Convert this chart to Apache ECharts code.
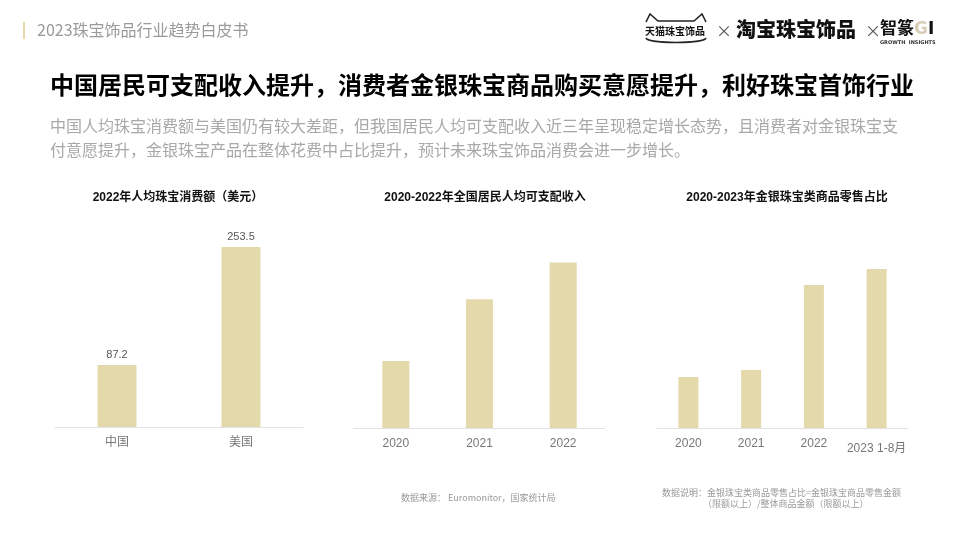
<!DOCTYPE html>
<html>
<head>
<meta charset="utf-8">
<script src="https://cdn.jsdelivr.net/npm/echarts@6/dist/echarts.min.js"></script>
<style>
  html, body { margin: 0; padding: 0; background: #fff; }
  #main { width: 960px; height: 540px; }
</style>
</head>
<body>
<div id="main"></div>
<script>
// 2022年人均珠宝消费额（美元）
const spendCats = ['中国', '美国'];
const spendVals = [87.2, 253.5];
// 2020-2022年全国居民人均可支配收入（元）
const incomeCats = ['2020', '2021', '2022'];
const incomeVals = [32189, 35128, 36883];
// 2020-2023年金银珠宝类商品零售占比（相对高度估计）
const shareCats = ['2020', '2021', '2022', '2023 1-8月'];
const shareVals = [5.1, 5.8, 14.3, 15.9];

const BAR = '#e4d9aa';
const FONT = '"Noto Sans CJK SC", "Noto Sans", sans-serif';
const CFONT = '"Liberation Sans", "Noto Sans CJK SC", sans-serif';

const chart = echarts.init(document.getElementById('main'));

const catAxis = (idx, data, extra) => Object.assign({
  type: 'category',
  gridIndex: idx,
  data: data,
  axisLine: { lineStyle: { color: '#e3e3e3', width: 1 } },
  axisTick: { show: false },
  axisLabel: { color: '#777', fontSize: 12, margin: 10, interval: 0, fontFamily: CFONT }
}, extra || {});

const valAxis = (idx, min, max) => ({
  type: 'value', gridIndex: idx, min: min, max: max,
  show: false, splitLine: { show: false }
});

const titleStyle = { fontSize: 12, fontWeight: 'bold', color: '#111', fontFamily: CFONT };

chart.setOption({
  animation: false,
  textStyle: { fontFamily: CFONT },
  title: [
    { text: '2022年人均珠宝消费额（美元）', left: 173, top: 187, textAlign: 'center', textStyle: titleStyle },
    { text: '2020-2022年全国居民人均可支配收入', left: 480, top: 187, textAlign: 'center', textStyle: titleStyle },
    { text: '2020-2023年金银珠宝类商品零售占比', left: 782, top: 187, textAlign: 'center', textStyle: titleStyle }
  ],
  grid: [
    { left: 55, width: 248, top: 214, height: 213 },
    { left: 354, width: 251, top: 218, height: 210 },
    { left: 657, width: 251, top: 218, height: 210 }
  ],
  xAxis: [
    catAxis(0, spendCats),
    catAxis(1, incomeCats),
    catAxis(2, shareCats, {
      axisLabel: {
        color: '#777', fontSize: 12, margin: 10, interval: 0, fontFamily: CFONT,
        formatter: v => v.indexOf('月') > -1 ? '{l|' + v + '}' : v,
        rich: { l: { color: '#777', fontSize: 12, padding: [5, 0, 0, 0], fontFamily: CFONT } }
      }
    })
  ],
  yAxis: [
    valAxis(0, 0, 300),
    valAxis(1, 29000, 39000),
    valAxis(2, 0, 21)
  ],
  series: [
    { type: 'bar', xAxisIndex: 0, yAxisIndex: 0, data: spendVals, barWidth: 39,
      itemStyle: { color: BAR },
      label: { show: true, position: 'top', distance: 5, color: '#555', fontSize: 11, fontFamily: CFONT } },
    { type: 'bar', xAxisIndex: 1, yAxisIndex: 1, data: incomeVals, barWidth: 27,
      itemStyle: { color: BAR } },
    { type: 'bar', xAxisIndex: 2, yAxisIndex: 2, data: shareVals, barWidth: 20,
      itemStyle: { color: BAR } }
  ],
  graphic: [
    // 页眉
    { type: 'rect', shape: { x: 23, y: 22, width: 2, height: 17 }, style: { fill: BAR } },
    { type: 'text', left: 37, top: 22, style: { text: '2023珠宝饰品行业趋势白皮书', fill: '#9a9a9a', fontSize: 16, fontFamily: FONT } },
    // 天猫 logo
    { type: 'polyline', shape: { points: [[646, 22], [650, 14], [658, 21], [694, 21], [702, 14], [706, 22]] },
      style: { stroke: '#222', lineWidth: 1.6, fill: null } },
    { type: 'bezierCurve', shape: { x1: 646, y1: 38, x2: 706, y2: 38, cpx1: 648, cpy1: 44, cpx2: 704, cpy2: 44 },
      style: { stroke: '#222', lineWidth: 1.6, fill: null } },
    { type: 'text', left: 645, top: 26, style: { text: '天猫珠宝饰品', fill: '#111', fontSize: 10, fontWeight: 'bold', fontFamily: FONT } },
    { type: 'text', left: 716, top: 23, style: { text: '×', fill: '#555', fontSize: 16, fontFamily: FONT } },
    { type: 'text', left: 736, top: 19, style: { text: '淘宝珠宝饰品', fill: '#111', fontSize: 20, fontWeight: 900, fontFamily: FONT } },
    { type: 'text', left: 865, top: 23, style: { text: '×', fill: '#555', fontSize: 16, fontFamily: FONT } },
    { type: 'text', left: 880, top: 19, style: { text: '智篆', fill: '#111', fontSize: 17, fontWeight: 'bold', fontFamily: FONT } },
    { type: 'text', left: 914, top: 21, style: { text: 'G', fill: '#d8cdb8', fontSize: 17, fontWeight: 'bold', fontFamily: 'DejaVu Sans' } },
    { type: 'text', left: 928, top: 21, style: { text: 'I', fill: '#111', fontSize: 17, fontWeight: 'bold', fontFamily: 'DejaVu Sans' } },
    { type: 'text', left: 880, top: 40, style: { text: 'GROWTH  INSIGHTS', fill: '#333', fontSize: 5, fontWeight: 'bold', fontFamily: 'DejaVu Sans' } },
    // 主标题
    { type: 'text', left: 50, top: 73, style: { text: '中国居民可支配收入提升，消费者金银珠宝商品购买意愿提升，利好珠宝首饰行业', fill: '#000', fontSize: 24, fontWeight: 'bold', fontFamily: FONT } },
    { type: 'text', left: 50, top: 114, style: {
        text: '中国人均珠宝消费额与美国仍有较大差距，但我国居民人均可支配收入近三年呈现稳定增长态势，且消费者对金银珠宝支\n付意愿提升，金银珠宝产品在整体花费中占比提升，预计未来珠宝饰品消费会进一步增长。',
        fill: '#a8a8a8', fontSize: 16, lineHeight: 24, fontFamily: FONT } },
    // 脚注
    { type: 'text', left: 401, top: 493, style: { text: '数据来源： Euromonitor，国家统计局', fill: '#999', fontSize: 9, fontFamily: FONT } },
    { type: 'text', left: 662, top: 488, style: { text: '数据说明：金银珠宝类商品零售占比=金银珠宝商品零售金额', fill: '#999', fontSize: 9, fontFamily: FONT } },
    { type: 'text', left: 703, top: 499, style: { text: '（限额以上）/整体商品金额（限额以上）', fill: '#999', fontSize: 9, fontFamily: FONT } }
  ]
});
</script>
</body>
</html>
